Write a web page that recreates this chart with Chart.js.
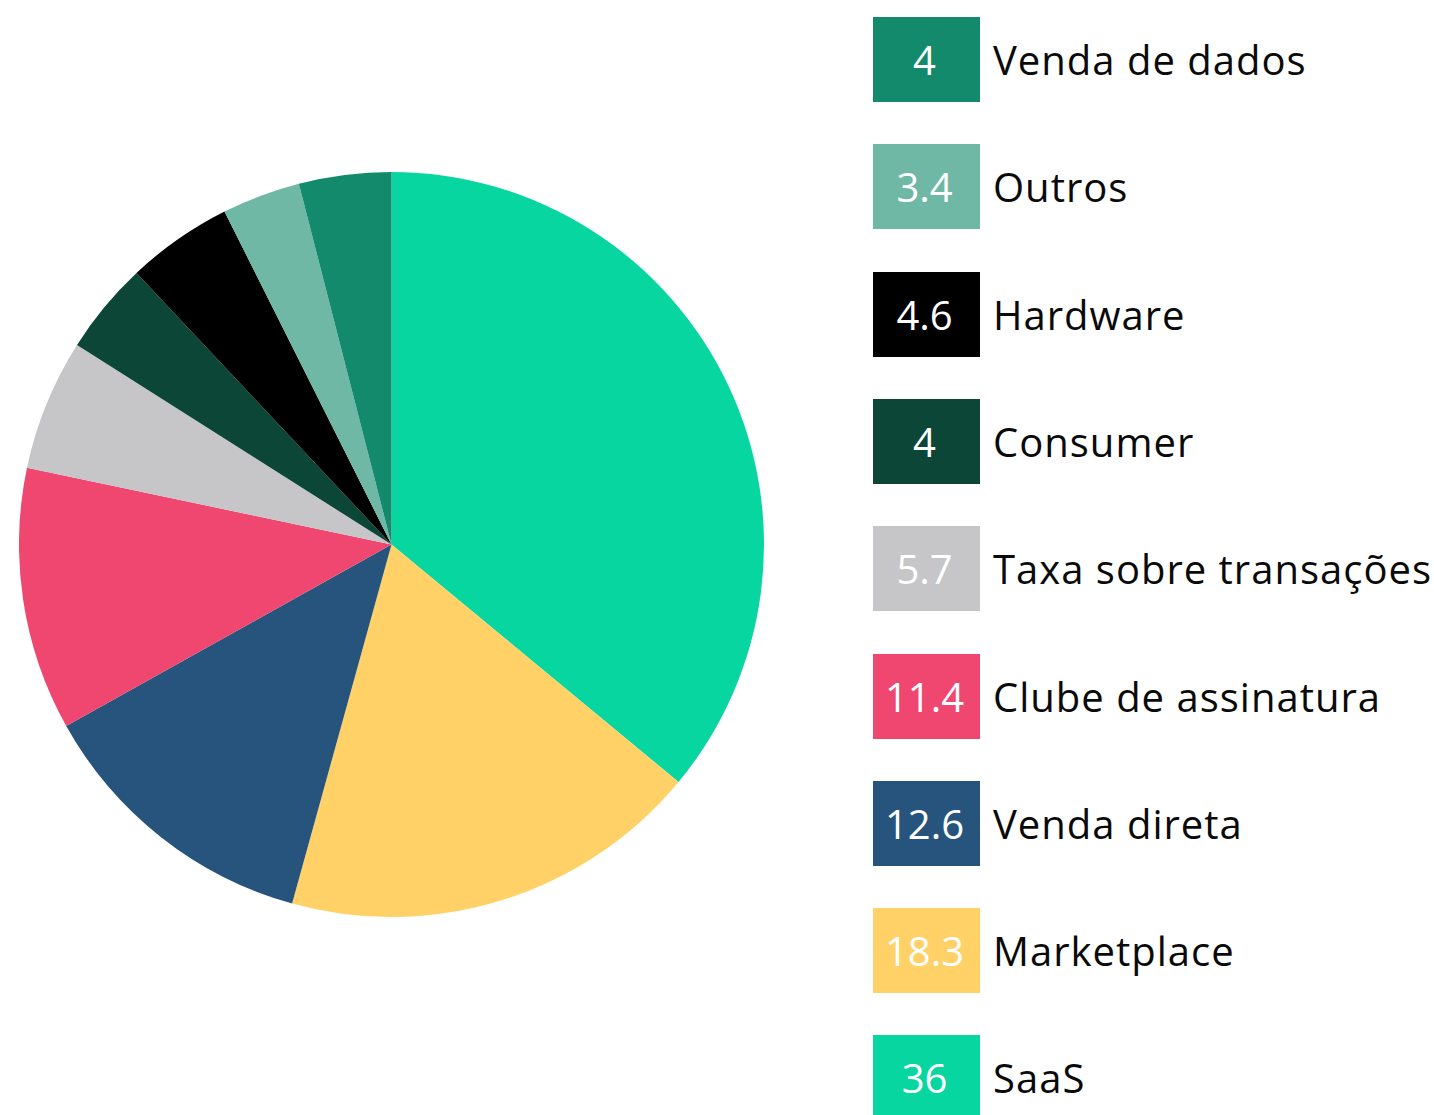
<!DOCTYPE html>
<html>
<head>
<meta charset="utf-8">
<script src="https://cdn.jsdelivr.net/npm/chart.js@4/dist/chart.umd.min.js"></script>
<style>
  html, body { margin: 0; padding: 0; background: #ffffff; width: 1434px; height: 1115px; overflow: hidden; }
  #pieWrap { position: absolute; left: 19px; top: 172px; width: 745px; height: 745px; }
  #legend { position: absolute; left: 873px; top: 17px; font-family: "Open Sans", sans-serif; }
  .item { position: absolute; left: 0; height: 85px; display: flex; align-items: center; white-space: nowrap; }
  .box { width: 107px; height: 85px; line-height: 85px; text-align: center; color: #ffffff; font-size: 40px; padding-right: 4px; box-sizing: border-box; }
  .lab { margin-left: 13px; height: 85px; line-height: 85px; font-size: 40px; color: #0a0a0a; letter-spacing: 1.0px; }
</style>
</head>
<body>
<div id="pieWrap"><canvas id="c"></canvas></div>
<div id="legend"></div>
<script>
const categories = ["SaaS", "Marketplace", "Venda direta", "Clube de assinatura", "Taxa sobre transações", "Consumer", "Hardware", "Outros", "Venda de dados"];
const values = [36, 18.3, 12.6, 11.4, 5.7, 4, 4.6, 3.4, 4];
const valueLabels = ["36", "18.3", "12.6", "11.4", "5.7", "4", "4.6", "3.4", "4"];
const colors = ["#07D6A0", "#FFD166", "#26547C", "#EF476F", "#C6C6C8", "#0B4636", "#000000", "#6FB8A5", "#138A6B"];

new Chart(document.getElementById('c'), {
  type: 'pie',
  data: {
    labels: categories,
    datasets: [{ data: values, backgroundColor: colors, borderWidth: 0, hoverOffset: 0 }]
  },
  options: {
    responsive: true,
    maintainAspectRatio: false,
    animation: false,
    layout: { padding: 0 },
    plugins: { legend: { display: false }, tooltip: { enabled: false } }
  }
});

// Legend (reverse order, as in reference)
const legend = document.getElementById('legend');
const pitch = 127.3;
for (let k = 0; k < categories.length; k++) {
  const i = categories.length - 1 - k;
  const item = document.createElement('div');
  item.className = 'item';
  item.style.top = (k * pitch) + 'px';
  const box = document.createElement('div');
  box.className = 'box';
  box.style.background = colors[i];
  box.textContent = valueLabels[i];
  const lab = document.createElement('div');
  lab.className = 'lab';
  lab.textContent = categories[i];
  item.appendChild(box);
  item.appendChild(lab);
  legend.appendChild(item);
}
</script>
</body>
</html>
